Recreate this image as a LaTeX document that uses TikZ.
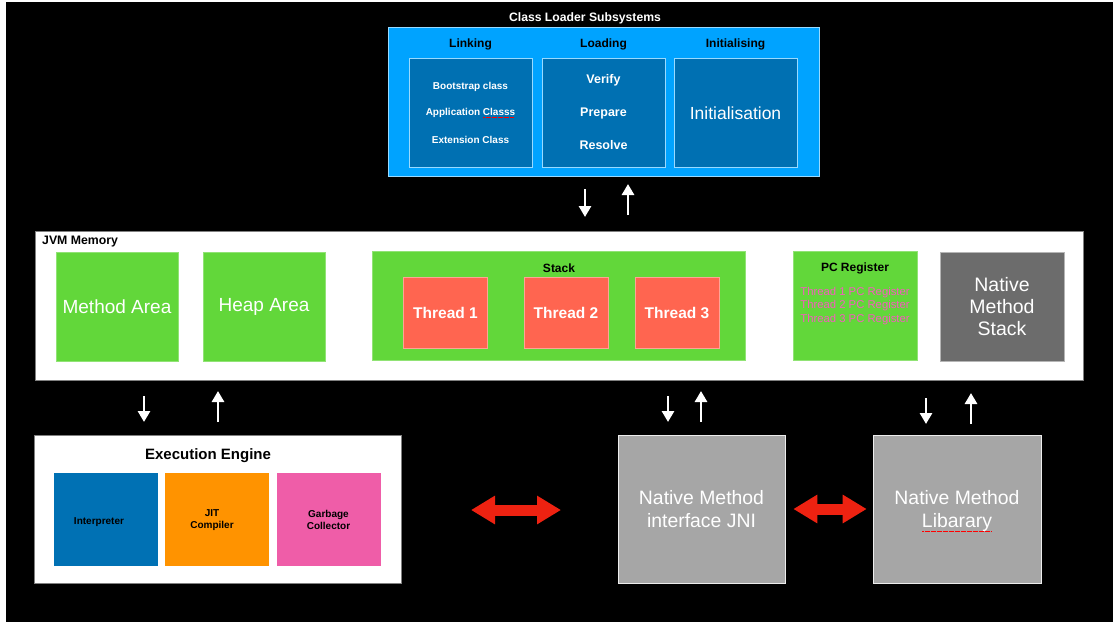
\documentclass[tikz,border=0pt]{standalone}
\usepackage{fontspec}
\setmainfont{Liberation Sans}
\usepackage{tikz}
\usetikzlibrary{positioning,arrows.meta}

\definecolor{clsblue}{RGB}{0,163,255}
\definecolor{inblue}{RGB}{0,112,178}
\definecolor{jvmgreen}{RGB}{98,215,58}
\definecolor{threadred}{RGB}{255,101,80}
\definecolor{pcpink}{RGB}{246,92,190}
\definecolor{nmsgray}{RGB}{108,108,108}
\definecolor{engblue}{RGB}{0,113,180}
\definecolor{jitorange}{RGB}{255,147,0}
\definecolor{gcpink}{RGB}{239,93,168}
\definecolor{nativegray}{RGB}{166,166,166}
\definecolor{arrowred}{RGB}{238,34,17}

% red dotted underline of the spell checker
\newsavebox{\typobox}
\newcommand{\typo}[1]{\sbox{\typobox}{#1}\rlap{\textcolor{red}{\raisebox{-0.35ex}{\leaders\hbox to 1.2pt{\hss\rule{0.6pt}{0.5pt}\hss}\hskip\wd\typobox}}}#1}
\newcommand{\fs}[1]{\fontsize{#1}{#1}\selectfont}

\begin{document}
\begin{tikzpicture}[
    x=1pt, y=-1pt,
    box/.style={inner sep=0pt, align=center},
    inner/.style={box, fill=inblue, draw=white!60!clsblue, line width=0.8pt, minimum width=123, minimum height=109},
    green/.style={box, fill=jvmgreen, draw=white!30!jvmgreen, line width=0.6pt, minimum width=122, minimum height=109, text=white, font=\fs{19}},
    thread/.style={box, fill=threadred, draw=white!40!threadred, line width=0.8pt, minimum width=84, minimum height=71, text=white, font=\bfseries\fs{15.5}},
    engine/.style={box, minimum width=104, minimum height=93, text=black},
    native/.style={box, fill=nativegray, draw=white!80!nativegray, line width=0.6pt, minimum height=148, text=white, font=\fs{19.4}, text depth=0pt},
    heading/.style={font=\bfseries\fs{12}, text=black, inner sep=0pt},
    flow/.style={-{Triangle[width=12pt,length=11pt]}, line width=2.8pt, white},
    swap/.style={{Triangle[width=27pt,length=24pt]}-{Triangle[width=27pt,length=24pt]}, line width=11pt, arrowred}
]
\useasboundingbox (0,0) rectangle (1113,622);
\fill[white] (0,0) rectangle (1113,622);
\fill[black] (6,2) rectangle (1113,622);

% Class loader
\node[heading, text=white, font=\bfseries\fs{12.2}] (clstitle) at (585,18) {Class Loader Subsystems};
\node[box, fill=clsblue, draw=white!60!clsblue, line width=1pt, minimum width=431, minimum height=149] (cls) at (603.5,101.5) {};
\node[heading] (linkhd) at (470.5,44) {Linking};
\node[heading] (loadhd) at (603.5,44) {Loading};
\node[heading] (inithd) at (735.5,44) {Initialising};
\node[inner] (link) at (470.5,112.5) {};
\node[inner] (load) at (603.5,112.5) {};
\node[inner] (init) at (735.5,112.5) {};
\node[text=white, font=\bfseries\fs{10}] (boot) at (470.5,87) {Bootstrap class};
\node[text=white, font=\bfseries\fs{10}] (app) at (470.5,113) {Application \typo{Classs}};
\node[text=white, font=\bfseries\fs{10}] (ext) at (470.5,140) {Extension Class};
\node[text=white, font=\bfseries\fs{12.5}] (verify) at (603.5,80) {Verify};
\node[text=white, font=\bfseries\fs{12.5}] (prepare) at (603.5,113) {Prepare};
\node[text=white, font=\bfseries\fs{12.5}] (resolve) at (603.5,145) {Resolve};
\node[text=white, font=\fs{17.5}] (initl) at (735.5,113) {Initialisation};

% arrows class loader <-> memory
\coordinate (c1a) at (585,189);
\coordinate (c1b) at (585,217);
\coordinate (c2a) at (628,215);
\coordinate (c2b) at (628,184);
\draw[flow] (c1a) -- (c1b);
\draw[flow] (c2a) -- (c2b);

% JVM memory
\node[box, fill=white, draw=gray, line width=0.5pt, minimum width=1048, minimum height=149] (mem) at (559,305.5) {};
\node[heading, font=\bfseries\fs{12.3}, anchor=west] (memhd) at (42,242) {JVM Memory};
\node[green] (method) at (117,306.5) {Method Area};
\node[green] (heap) at (264,306.5) {Heap Area};
\node[green, minimum width=373] (stack) at (558.5,305.5) {};
\node[heading] (stackhd) at (559,268.5) {Stack};
\node[thread] (t1) at (445.5,313) {Thread 1};
\node[thread] (t2) at (566,313) {Thread 2};
\node[thread] (t3) at (677,313) {Thread 3};
\node[green, minimum width=124] (pc) at (855,305.5) {};
\node[heading] (pchd) at (855,268.5) {PC Register};
\node[align=center, text=pcpink, font=\fs{11.3}, inner sep=0pt] (pcreg) at (855,306) {Thread 1 PC Register\\[2.6pt]Thread 2 PC Register\\[2.6pt]Thread 3 PC Register};
\node[box, fill=nmsgray, draw=white!50!nmsgray, line width=0.6pt, minimum width=124, minimum height=109, text=white, font=\fs{19.5}] (nms) at (1002,306.5) {Native\\[2.5pt]Method\\[2.5pt]Stack};

% arrows memory <-> engine and native side
\coordinate (m1a) at (144,396);
\coordinate (m1b) at (144,422);
\coordinate (m2a) at (218,422);
\coordinate (m2b) at (218,391);
\coordinate (m3a) at (668,396);
\coordinate (m3b) at (668,422);
\coordinate (m4a) at (701,422);
\coordinate (m4b) at (701,391);
\coordinate (m5a) at (926,398);
\coordinate (m5b) at (926,424);
\coordinate (m6a) at (971,424);
\coordinate (m6b) at (971,393);
\draw[flow] (m1a) -- (m1b);
\draw[flow] (m2a) -- (m2b);
\draw[flow] (m3a) -- (m3b);
\draw[flow] (m4a) -- (m4b);
\draw[flow] (m5a) -- (m5b);
\draw[flow] (m6a) -- (m6b);

% Execution engine
\node[box, fill=white, draw=gray, line width=0.5pt, minimum width=367, minimum height=148] (exec) at (217.5,509) {};
\node[heading, font=\bfseries\fs{15}] (exechd) at (208,456) {Execution Engine};
\node[engine, fill=engblue] (interp) at (106,519.5) {};
\node[engine, fill=jitorange] (jit) at (217,519.5) {};
\node[engine, fill=gcpink] (gc) at (328.5,519.5) {};
\node[font=\bfseries\fs{10}, inner sep=0pt] (interpl) at (99,522) {Interpreter};
\node[font=\bfseries\fs{10}, inner sep=0pt, align=center] (jitl) at (212,520) {JIT\\[2.5pt]Compiler};
\node[font=\bfseries\fs{10}, inner sep=0pt, align=center] (gcl) at (328.5,520) {Garbage\\[2.5pt]Collector};

% Native interface and library
\node[native, minimum width=167] (jni) at (701.5,509) {Native Method\\[4pt]interface JNI};
\node[native, minimum width=168] (lib) at (957,509) {Native Method\\[4pt]\typo{Libarary}};
\coordinate (r1a) at (471,510);
\coordinate (r1b) at (561,510);
\draw[swap] (r1a) -- (r1b);
\draw[swap] ([xshift=8]jni.east) -- ([xshift=-6]lib.west);

\end{tikzpicture}
\end{document}
